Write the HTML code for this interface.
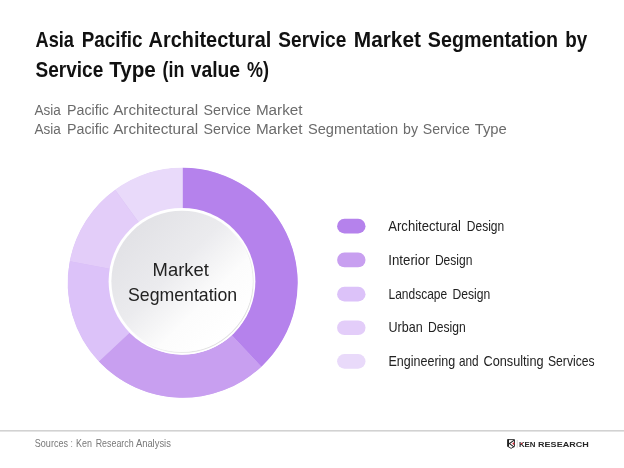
<!DOCTYPE html>
<html><head><meta charset="utf-8"><style>
html,body{margin:0;padding:0;background:#fff;}
body{width:624px;height:468px;overflow:hidden;font-family:"Liberation Sans",sans-serif;}
svg{display:block;filter:blur(0.3px);}
</style></head><body>
<svg width="624" height="468" viewBox="0 0 624 468" font-family="Liberation Sans, sans-serif">
<defs>
<linearGradient id="g1" x1="0.15" y1="0.15" x2="0.85" y2="0.85">
<stop offset="0" stop-color="#e2e2e6"/><stop offset="0.4" stop-color="#ebebee"/><stop offset="0.72" stop-color="#fcfcfc"/><stop offset="1" stop-color="#ffffff"/>
</linearGradient>
<linearGradient id="g2" x1="0" y1="0" x2="1" y2="1">
<stop offset="0" stop-color="#ffffff"/><stop offset="0.5" stop-color="#ffffff"/><stop offset="0.8" stop-color="#e4e4e4"/><stop offset="1" stop-color="#d6d6d6"/>
</linearGradient>
</defs>
<rect width="624" height="468" fill="#ffffff"/>
<circle cx="182.7" cy="282.8" r="93.40" fill="none" stroke="#cfb0f3" stroke-width="42.60"/>
<path d="M182.70,167.80 A115.0,115.0 0 0 1 261.42,366.63 L231.85,335.14 A71.8,71.8 0 0 0 182.70,211.00 Z" fill="#B582EC"/><path d="M261.42,366.63 A115.0,115.0 0 0 1 98.87,361.52 L130.36,331.95 A71.8,71.8 0 0 0 231.85,335.14 Z" fill="#C89FF0"/><path d="M98.87,361.52 A115.0,115.0 0 0 1 69.74,261.25 L112.17,269.35 A71.8,71.8 0 0 0 130.36,331.95 Z" fill="#DCC2F9"/><path d="M69.74,261.25 A115.0,115.0 0 0 1 115.10,189.76 L140.50,224.71 A71.8,71.8 0 0 0 112.17,269.35 Z" fill="#E3CDF9"/><path d="M115.10,189.76 A115.0,115.0 0 0 1 182.70,167.80 L182.70,211.00 A71.8,71.8 0 0 0 140.50,224.71 Z" fill="#E9DAFA"/>
<circle cx="182.0" cy="281.3" r="73.4" fill="#ffffff"/>
<circle cx="182.0" cy="281.3" r="71.10000000000001" fill="none" stroke="url(#g2)" stroke-width="1.1"/>
<circle cx="182.0" cy="281.3" r="70.60000000000001" fill="url(#g1)"/>
<rect x="337.1" y="218.8" width="28.4" height="14.7" rx="7.35" fill="#B582EC"/><rect x="337.1" y="252.6" width="28.4" height="14.7" rx="7.35" fill="#C89FF0"/><rect x="337.1" y="286.8" width="28.4" height="14.7" rx="7.35" fill="#DCC2F9"/><rect x="337.1" y="320.4" width="28.4" height="14.7" rx="7.35" fill="#E3CDF9"/><rect x="337.1" y="354.0" width="28.4" height="14.7" rx="7.35" fill="#E9DAFA"/>
<rect x="0" y="430" width="624" height="1.6" fill="#d2d2d2"/>
<g fill="none" stroke="#222" stroke-linejoin="miter">
<path d="M507.7,439.6 H514.5 V446.3 L511.1,448.4 L507.7,446.3 Z" stroke-width="0.9" fill="#fff"/>
<path d="M514.3,440.1 L509.4,443.6 L514.3,447.1" stroke-width="1.1"/>
</g>
<rect x="507.4" y="439.3" width="1.6" height="7.4" fill="#222"/>
<path d="M513.5,442.3 L514.7,443.6 L513.5,444.9 L512.3,443.6 Z" fill="#d42a36"/>
<rect x="516.7" y="440" width="1.2" height="7.7" fill="#dcdcdc"/>
<text x="35.60" y="47" font-size="22.4" fill="#111111" font-weight="bold" textLength="38.36" lengthAdjust="spacingAndGlyphs">Asia</text><text x="81.80" y="47" font-size="22.4" fill="#111111" font-weight="bold" textLength="60.69" lengthAdjust="spacingAndGlyphs">Pacific</text><text x="148.60" y="47" font-size="22.4" fill="#111111" font-weight="bold" textLength="122.77" lengthAdjust="spacingAndGlyphs">Architectural</text><text x="278.30" y="47" font-size="22.4" fill="#111111" font-weight="bold" textLength="67.97" lengthAdjust="spacingAndGlyphs">Service</text><text x="353.80" y="47" font-size="22.4" fill="#111111" font-weight="bold" textLength="67.17" lengthAdjust="spacingAndGlyphs">Market</text><text x="427.80" y="47" font-size="22.4" fill="#111111" font-weight="bold" textLength="130.24" lengthAdjust="spacingAndGlyphs">Segmentation</text><text x="565.20" y="47" font-size="22.4" fill="#111111" font-weight="bold" textLength="22.04" lengthAdjust="spacingAndGlyphs">by</text><text x="35.60" y="76.6" font-size="22.4" fill="#111111" font-weight="bold" textLength="67.67" lengthAdjust="spacingAndGlyphs">Service</text><text x="109.20" y="76.6" font-size="22.4" fill="#111111" font-weight="bold" textLength="46.60" lengthAdjust="spacingAndGlyphs">Type</text><text x="162.50" y="76.6" font-size="22.4" fill="#111111" font-weight="bold" textLength="21.83" lengthAdjust="spacingAndGlyphs">(in</text><text x="190.70" y="76.6" font-size="22.4" fill="#111111" font-weight="bold" textLength="49.44" lengthAdjust="spacingAndGlyphs">value</text><text x="247.00" y="76.6" font-size="22.4" fill="#111111" font-weight="bold" textLength="21.94" lengthAdjust="spacingAndGlyphs">%)</text><text x="34.40" y="114.7" font-size="15.3" fill="#6b6b6b" textLength="26.34" lengthAdjust="spacingAndGlyphs">Asia</text><text x="67.00" y="114.7" font-size="15.3" fill="#6b6b6b" textLength="41.91" lengthAdjust="spacingAndGlyphs">Pacific</text><text x="113.20" y="114.7" font-size="15.3" fill="#6b6b6b" textLength="84.87" lengthAdjust="spacingAndGlyphs">Architectural</text><text x="203.50" y="114.7" font-size="15.3" fill="#6b6b6b" textLength="47.49" lengthAdjust="spacingAndGlyphs">Service</text><text x="255.90" y="114.7" font-size="15.3" fill="#6b6b6b" textLength="46.62" lengthAdjust="spacingAndGlyphs">Market</text><text x="34.40" y="134.0" font-size="15.3" fill="#6b6b6b" textLength="26.34" lengthAdjust="spacingAndGlyphs">Asia</text><text x="67.00" y="134.0" font-size="15.3" fill="#6b6b6b" textLength="41.91" lengthAdjust="spacingAndGlyphs">Pacific</text><text x="113.20" y="134.0" font-size="15.3" fill="#6b6b6b" textLength="84.87" lengthAdjust="spacingAndGlyphs">Architectural</text><text x="203.50" y="134.0" font-size="15.3" fill="#6b6b6b" textLength="47.49" lengthAdjust="spacingAndGlyphs">Service</text><text x="255.90" y="134.0" font-size="15.3" fill="#6b6b6b" textLength="46.62" lengthAdjust="spacingAndGlyphs">Market</text><text x="308.00" y="134.0" font-size="15.3" fill="#6b6b6b" textLength="90.12" lengthAdjust="spacingAndGlyphs">Segmentation</text><text x="403.10" y="134.0" font-size="15.3" fill="#6b6b6b" textLength="14.92" lengthAdjust="spacingAndGlyphs">by</text><text x="422.80" y="134.0" font-size="15.3" fill="#6b6b6b" textLength="47.09" lengthAdjust="spacingAndGlyphs">Service</text><text x="474.70" y="134.0" font-size="15.3" fill="#6b6b6b" textLength="32.17" lengthAdjust="spacingAndGlyphs">Type</text><text x="388.30" y="230.8" font-size="14.3" fill="#222222" textLength="72.67" lengthAdjust="spacingAndGlyphs">Architectural</text><text x="466.80" y="230.8" font-size="14.3" fill="#222222" textLength="37.37" lengthAdjust="spacingAndGlyphs">Design</text><text x="388.30" y="264.6" font-size="14.3" fill="#222222" textLength="41.33" lengthAdjust="spacingAndGlyphs">Interior</text><text x="434.90" y="264.6" font-size="14.3" fill="#222222" textLength="37.57" lengthAdjust="spacingAndGlyphs">Design</text><text x="388.50" y="298.8" font-size="14.3" fill="#222222" textLength="58.68" lengthAdjust="spacingAndGlyphs">Landscape</text><text x="452.40" y="298.8" font-size="14.3" fill="#222222" textLength="37.77" lengthAdjust="spacingAndGlyphs">Design</text><text x="388.50" y="332.4" font-size="14.3" fill="#222222" textLength="34.18" lengthAdjust="spacingAndGlyphs">Urban</text><text x="428.00" y="332.4" font-size="14.3" fill="#222222" textLength="37.77" lengthAdjust="spacingAndGlyphs">Design</text><text x="388.50" y="366.0" font-size="14.3" fill="#222222" textLength="66.77" lengthAdjust="spacingAndGlyphs">Engineering</text><text x="459.00" y="366.0" font-size="14.3" fill="#222222" textLength="19.68" lengthAdjust="spacingAndGlyphs">and</text><text x="483.50" y="366.0" font-size="14.3" fill="#222222" textLength="60.10" lengthAdjust="spacingAndGlyphs">Consulting</text><text x="548.00" y="366.0" font-size="14.3" fill="#222222" textLength="46.60" lengthAdjust="spacingAndGlyphs">Services</text><text x="152.60" y="276.4" font-size="18.6" fill="#222222" textLength="56.22" lengthAdjust="spacingAndGlyphs">Market</text><text x="128.00" y="301.0" font-size="18.6" fill="#222222" textLength="109.22" lengthAdjust="spacingAndGlyphs">Segmentation</text><text x="34.80" y="447.2" font-size="10.75" fill="#787878" textLength="33.19" lengthAdjust="spacingAndGlyphs">Sources</text><text x="70.80" y="447.2" font-size="10.75" fill="#787878" textLength="1.98" lengthAdjust="spacingAndGlyphs">:</text><text x="76.00" y="447.2" font-size="10.75" fill="#787878" textLength="15.89" lengthAdjust="spacingAndGlyphs">Ken</text><text x="95.70" y="447.2" font-size="10.75" fill="#787878" textLength="38.00" lengthAdjust="spacingAndGlyphs">Research</text><text x="135.90" y="447.2" font-size="10.75" fill="#787878" textLength="34.99" lengthAdjust="spacingAndGlyphs">Analysis</text><text x="518.90" y="446.5" font-size="6.9" fill="#262626" font-weight="bold" textLength="16.61" lengthAdjust="spacingAndGlyphs">KEN</text><text x="538.10" y="446.5" font-size="6.9" fill="#262626" font-weight="bold" textLength="50.62" lengthAdjust="spacingAndGlyphs">RESEARCH</text>
<path d="M521.6,442.6 L522.6,443.6 L521.6,444.6 L520.6,443.6 Z" fill="#d0303a"/>
</svg>
</body></html>
